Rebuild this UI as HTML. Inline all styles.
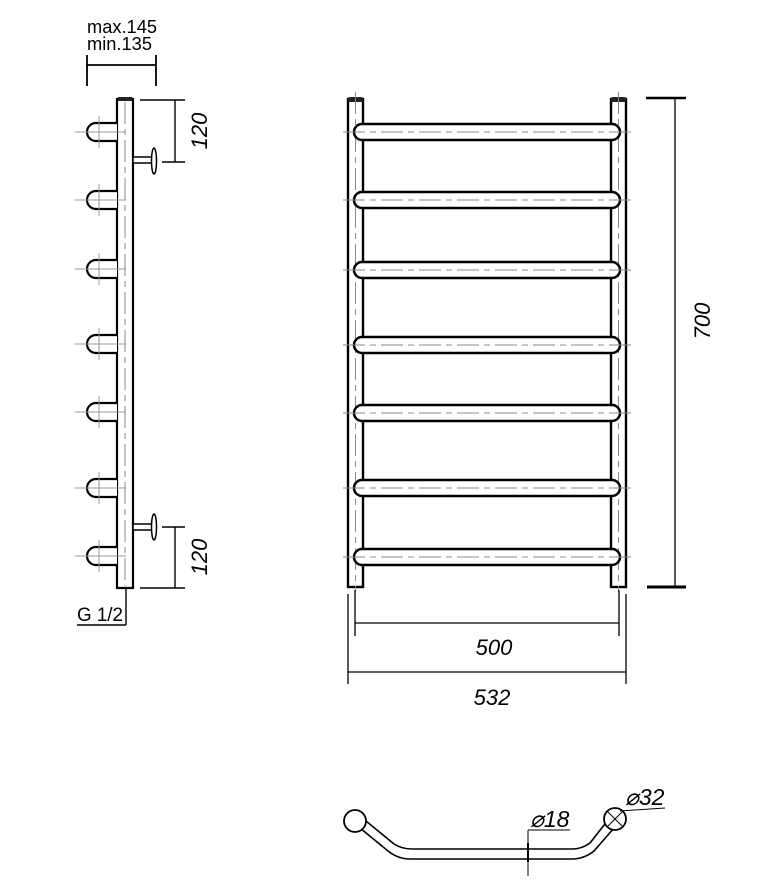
<!DOCTYPE html>
<html><head><meta charset="utf-8"><style>html,body{margin:0;padding:0;background:#fff}svg{display:block}</style></head>
<body>
<svg width="782" height="892" viewBox="0 0 782 892" xmlns="http://www.w3.org/2000/svg" font-family="Liberation Sans, sans-serif">
<defs>
<g id="bar">
<rect x="354" y="-8" width="266" height="16" rx="8" fill="#fff" stroke="#000" stroke-width="2.5"/>
<line x1="343" y1="0" x2="632" y2="0" stroke="#888" stroke-width="1" stroke-dasharray="22,5,6,5"/>
</g>
<g id="knob">
<path d="M117,-9 H96 A9,9 0 0 0 96,9 H117" fill="#fff" stroke="#000" stroke-width="2.2"/>
<line x1="75" y1="0" x2="126" y2="0" stroke="#999" stroke-width="1"/>
<line x1="99" y1="-16" x2="99" y2="16" stroke="#999" stroke-width="1"/>
</g>
</defs>

<!-- SIDE VIEW -->
<text x="87" y="33" font-size="18" textLength="70" lengthAdjust="spacingAndGlyphs">max.145</text>
<text x="87" y="50" font-size="18" textLength="65" lengthAdjust="spacingAndGlyphs">min.135</text>
<line x1="87" y1="65" x2="156" y2="65" stroke="#000" stroke-width="1.8"/>
<line x1="87" y1="55" x2="87" y2="86" stroke="#000" stroke-width="1.8"/>
<line x1="156" y1="55" x2="156" y2="86" stroke="#000" stroke-width="1.8"/>

<rect x="117" y="99" width="16" height="489" fill="#fff" stroke="#000" stroke-width="2.2"/>
<rect x="118" y="97" width="14" height="4" fill="#222"/>
<line x1="125" y1="102" x2="125" y2="586" stroke="#888" stroke-width="1" stroke-dasharray="22,5,6,5"/>
<use href="#knob" transform="translate(0,132)"/>
<use href="#knob" transform="translate(0,200)"/>
<use href="#knob" transform="translate(0,269)"/>
<use href="#knob" transform="translate(0,344)"/>
<use href="#knob" transform="translate(0,412)"/>
<use href="#knob" transform="translate(0,488)"/>
<use href="#knob" transform="translate(0,556)"/>
<!-- brackets -->
<rect x="133" y="157" width="19" height="6" fill="#fff" stroke="#000" stroke-width="1.5"/>
<ellipse cx="154" cy="161" rx="2.5" ry="13" fill="#fff" stroke="#000" stroke-width="1.5"/>
<rect x="133" y="524" width="19" height="6" fill="#fff" stroke="#000" stroke-width="1.5"/>
<ellipse cx="154" cy="527" rx="2.5" ry="13" fill="#fff" stroke="#000" stroke-width="1.5"/>
<!-- 120 dims -->
<g stroke="#000" stroke-width="1.4">
<line x1="140" y1="100" x2="185" y2="100"/><line x1="162" y1="162" x2="185" y2="162"/><line x1="175" y1="100" x2="175" y2="162"/>
<line x1="162" y1="527" x2="185" y2="527"/><line x1="140" y1="588" x2="185" y2="588"/><line x1="175" y1="527" x2="175" y2="588"/>
</g>
<text transform="translate(207,131) rotate(-90)" font-size="22" font-style="italic" text-anchor="middle">120</text>
<text transform="translate(207,557) rotate(-90)" font-size="22" font-style="italic" text-anchor="middle">120</text>
<!-- G 1/2 -->
<text x="77" y="621" font-size="19" textLength="46" lengthAdjust="spacingAndGlyphs">G 1/2</text>
<line x1="77" y1="625" x2="126" y2="625" stroke="#000" stroke-width="1.4"/>
<line x1="126" y1="588" x2="126" y2="625" stroke="#000" stroke-width="1.4"/>

<!-- FRONT VIEW -->
<rect x="348" y="99" width="15" height="488" fill="#fff" stroke="#000" stroke-width="2.4"/>
<rect x="611" y="99" width="15" height="488" fill="#fff" stroke="#000" stroke-width="2.4"/>
<rect x="348" y="97" width="15" height="5" rx="2" fill="#222"/>
<rect x="611" y="97" width="15" height="5" rx="2" fill="#222"/>
<line x1="355.5" y1="92" x2="355.5" y2="592" stroke="#888" stroke-width="1" stroke-dasharray="22,5,6,5"/>
<line x1="618.5" y1="92" x2="618.5" y2="592" stroke="#888" stroke-width="1" stroke-dasharray="22,5,6,5"/>
<use href="#bar" transform="translate(0,132)"/>
<use href="#bar" transform="translate(0,200)"/>
<use href="#bar" transform="translate(0,270)"/>
<use href="#bar" transform="translate(0,345)"/>
<use href="#bar" transform="translate(0,413)"/>
<use href="#bar" transform="translate(0,488)"/>
<use href="#bar" transform="translate(0,557)"/>
<!-- width dims -->
<g stroke="#000" stroke-width="1.3">
<line x1="355" y1="590" x2="355" y2="636"/><line x1="619" y1="590" x2="619" y2="636"/>
<line x1="355" y1="623" x2="619" y2="623"/>
<line x1="348" y1="594" x2="348" y2="684"/><line x1="626" y1="594" x2="626" y2="684"/>
<line x1="348" y1="672" x2="626" y2="672"/>
</g>
<text x="494" y="655" font-size="22" font-style="italic" text-anchor="middle">500</text>
<text x="492" y="705" font-size="22" font-style="italic" text-anchor="middle">532</text>
<!-- 700 -->
<line x1="675" y1="98" x2="675" y2="587" stroke="#000" stroke-width="1.3"/>
<line x1="646" y1="98" x2="686" y2="98" stroke="#000" stroke-width="2.5"/>
<line x1="647" y1="587" x2="686" y2="587" stroke="#000" stroke-width="3"/>
<text transform="translate(710,321) rotate(-90)" font-size="22" font-style="italic" text-anchor="middle">700</text>

<!-- TOP VIEW -->
<g fill="none" stroke="#000" stroke-width="1.6">
<path d="M360,828 L388,851 Q398,859 410,859 H572 Q584,859 594,851 L614,828"/>
<path d="M366,821 L394,844 Q402,849 412,849 H572 Q582,849 590,843 L608,820"/>
</g>
<circle cx="355" cy="821" r="11" fill="#fff" stroke="#000" stroke-width="1.8"/>
<circle cx="615" cy="819" r="11" fill="#fff" stroke="#000" stroke-width="1.8"/>
<line x1="608" y1="812" x2="622" y2="826" stroke="#000" stroke-width="1"/>
<line x1="622" y1="812" x2="608" y2="826" stroke="#000" stroke-width="1"/>
<g stroke="#000" stroke-width="1">
<line x1="528" y1="830" x2="528" y2="876"/>
<line x1="528" y1="830" x2="570" y2="830"/>
<line x1="620" y1="811" x2="665" y2="808"/>
</g>
<line x1="528" y1="843" x2="528" y2="862" stroke="#000" stroke-width="2"/>
<text x="530" y="827" font-size="23" font-style="italic">⌀18</text>
<text x="625" y="805" font-size="23" font-style="italic">⌀32</text>
</svg>
</body></html>
